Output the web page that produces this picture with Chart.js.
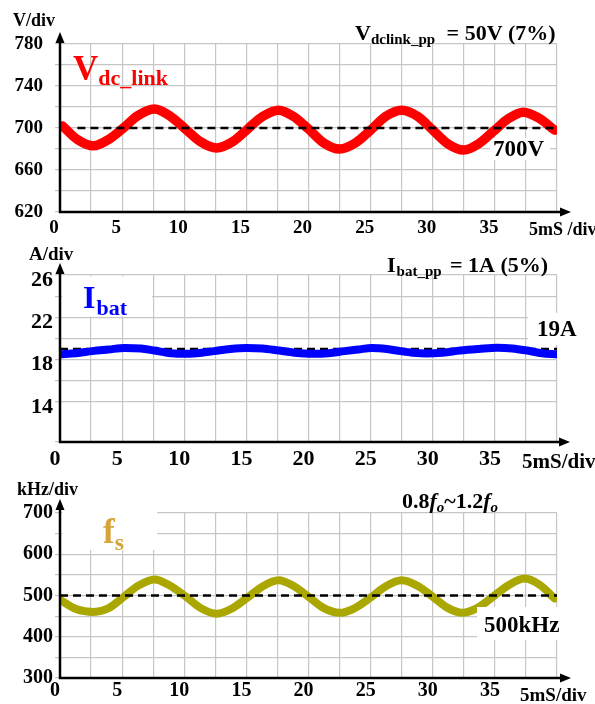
<!DOCTYPE html>
<html>
<head>
<meta charset="utf-8">
<script src="https://cdn.jsdelivr.net/npm/chart.js@4.4.1/dist/chart.umd.min.js"></script>
<style>
  html, body { margin: 0; padding: 0; background: #fff; }
  #wrap { position: relative; width: 595px; height: 704px; }
  #wrap canvas { position: absolute; left: 0; display: block; }
</style>
</head>
<body>
<div id="wrap">
  <canvas id="vdcChart" width="595" height="240" style="top:0"></canvas>
  <canvas id="ibatChart" width="595" height="234" style="top:240px"></canvas>
  <canvas id="fsChart" width="595" height="230" style="top:474px"></canvas>
</div>
<script>
// time axis (ms), shared by all three traces
var timeTickLabels = [0, 5, 10, 15, 20, 25, 30, 35];

// DC link voltage (V)
var vdcTime = [0.2, 1.4, 2.7, 3.9, 5.1, 6.3, 7.6, 8.9, 10.1, 11.3, 12.6, 13.9, 15.1, 16.3, 17.6, 18.8, 20.0,
  21.2, 22.5, 23.8, 25.0, 26.2, 27.5, 28.8, 30.0, 31.2, 32.5, 33.7, 34.9, 36.1, 37.3, 38.6, 39.8];
var vdcVolt = [702, 689, 683, 689, 700, 712, 718, 711, 699, 687, 681, 687, 699, 711, 717, 711, 699,
  686, 680, 686, 698, 711, 717, 711, 698, 685, 679, 685, 697, 709, 715, 709, 698];
var vdcRefTime = [1.4, 40];
var vdcRefLevel = 700;
var vdcTickLabels = [620, 660, 700, 740, 780];

// battery current (A)
var ibatTime = [0, 1.3, 2.6, 3.9, 5.2, 6.5, 7.6, 8.6, 9.7, 11.0, 12.4, 13.7, 15.0, 16.3, 17.6, 18.9, 20.3,
  21.6, 22.9, 24.0, 25.1, 26.3, 27.4, 28.4, 29.5, 30.8, 32.2, 33.7, 35.2, 36.4, 37.6, 38.8, 40];
var ibatAmp = [18.5, 18.6, 18.8, 18.95, 19.1, 19.05, 18.85, 18.65, 18.55, 18.6, 18.8, 19.0, 19.1, 19.05, 18.85, 18.65, 18.55,
  18.6, 18.8, 18.95, 19.1, 19.0, 18.8, 18.65, 18.58, 18.65, 18.85, 19.0, 19.12, 19.05, 18.85, 18.6, 18.5];
var ibatRefTime = [0, 40];
var ibatRefLevel = 19;
var ibatTickLabels = [14, 18, 22, 26];

// switching frequency (kHz)
var fsTime = [0, 1.3, 2.7, 3.9, 5.1, 6.3, 7.6, 8.8, 10.1, 11.3, 12.6, 13.8, 15.1, 16.3, 17.6, 18.8, 20.0,
  21.2, 22.5, 23.7, 25.0, 26.2, 27.5, 28.8, 30.0, 31.2, 32.4, 33.6, 34.8, 36.1, 37.4, 38.6, 39.8];
var fsKhz = [490, 467, 460, 469, 496, 524, 539, 525, 498, 470, 456, 468, 495, 522, 537, 523, 497,
  470, 458, 469, 495, 522, 537, 523, 497, 470, 458, 470, 496, 525, 541, 526, 493];
var fsRefTime = [0, 40];
var fsRefLevel = 500;
var fsTickLabels = [300, 400, 500, 600, 700];

var SERIF = '"Liberation Serif", "Times New Roman", serif';
var GRID = "#c6c6c6";
var RED = "#ff0000";
var BLUE = "#0000ff";
var OLIVE = "#aaa800";
var GOLD = "#d6a43a";

function points(xs, ys) {
  return xs.map(function(x, i) { return { x: x, y: ys[i] }; });
}

function levelLine(xs, level) {
  return xs.map(function(x) { return { x: x, y: level }; });
}

// labels, white backing boxes and axis arrows for each panel
var decor = {
  vdcChart: {
    arrowUp: 12, arrowRight: 14,
    boxes: [{ x: 490, y: 138, w: 60, h: 22 }],
    texts: [
      { x: 13, y: 26, runs: [{ text: "V/div", size: 18 }] },
      { x: 355, y: 40, runs: [{ text: "V", size: 22 }, { text: "dclink_pp", size: 15, dy: 4 }, { text: " = 50V (7%)", size: 22, gap: 6 }] },
      { x: 73, y: 80, runs: [{ text: "V", size: 35, color: RED }, { text: "dc_link", size: 22, dy: 5, color: RED }] },
      { x: 493, y: 156, runs: [{ text: "700V", size: 23 }] },
      { x: 529, y: 235, runs: [{ text: "5mS /div", size: 18 }] }
    ]
  },
  ibatChart: {
    arrowUp: 12, arrowRight: 13,
    boxes: [{ x: 62, y: 36.5, w: 90, h: 40 }, { x: 528, y: 73, w: 54, h: 32 }],
    texts: [
      { x: 29, y: 20, runs: [{ text: "A/div", size: 19 }] },
      { x: 387, y: 32, runs: [{ text: "I", size: 22 }, { text: "bat_pp", size: 15, dy: 4, gap: 1 }, { text: " = 1A (5%)", size: 22, gap: 3 }] },
      { x: 83, y: 68, runs: [{ text: "I", size: 32, color: BLUE }, { text: "bat", size: 22, dy: 7, gap: 1, color: BLUE }] },
      { x: 537, y: 96, runs: [{ text: "19A", size: 23 }] },
      { x: 522, y: 228, runs: [{ text: "5mS/div", size: 21 }] }
    ]
  },
  fsChart: {
    arrowUp: 14, arrowRight: 14,
    boxes: [{ x: 62, y: 0, w: 95, h: 76 }, { x: 477, y: 133, w: 93, h: 33, onTop: true }],
    texts: [
      { x: 17, y: 21, runs: [{ text: "kHz/div", size: 18 }] },
      { x: 402, y: 34, runs: [
        { text: "0.8", size: 22 }, { text: "f", size: 22, style: "italic bold" }, { text: "o", size: 15, dy: 4, style: "italic bold" },
        { text: "~1.2", size: 22 }, { text: "f", size: 22, style: "italic bold" }, { text: "o", size: 15, dy: 4, style: "italic bold" }] },
      { x: 103, y: 69, runs: [{ text: "f", size: 35, color: GOLD }, { text: "s", size: 24, dy: 7, color: GOLD }] },
      { x: 484, y: 158, runs: [{ text: "500kHz", size: 23 }] },
      { x: 520, y: 227, runs: [{ text: "5mS/div", size: 19 }] }
    ]
  }
};

function drawRuns(ctx, x, y, runs) {
  runs.forEach(function(run) {
    ctx.font = (run.style || "bold") + " " + run.size + "px " + SERIF;
    ctx.fillStyle = run.color || "#000";
    x += run.gap || 0;
    ctx.fillText(run.text, x, y + (run.dy || 0));
    x += ctx.measureText(run.text).width;
  });
}

function drawBoxes(chart, onTop) {
  var d = decor[chart.canvas.id];
  var ctx = chart.ctx;
  ctx.save();
  ctx.fillStyle = "#fff";
  d.boxes.forEach(function(b) {
    if (!!b.onTop === onTop) ctx.fillRect(b.x, b.y, b.w, b.h);
  });
  ctx.restore();
}

var panelDecor = {
  id: "panelDecor",
  beforeDatasetsDraw: function(chart) { drawBoxes(chart, false); },
  afterDatasetsDraw: function(chart) { drawBoxes(chart, true); },
  afterDraw: function(chart) {
    var d = decor[chart.canvas.id];
    var ctx = chart.ctx;
    var a = chart.chartArea;
    ctx.save();
    // axes with arrow heads
    ctx.strokeStyle = "#000";
    ctx.fillStyle = "#000";
    ctx.lineWidth = 2.5;
    ctx.beginPath();
    ctx.moveTo(a.left, a.bottom + 1);
    ctx.lineTo(a.left, a.top - d.arrowUp + 8);
    ctx.moveTo(a.left - 1.2, a.bottom);
    ctx.lineTo(a.right + d.arrowRight - 8, a.bottom);
    ctx.stroke();
    ctx.beginPath();
    ctx.moveTo(a.left, a.top - d.arrowUp);
    ctx.lineTo(a.left - 4.5, a.top - d.arrowUp + 11);
    ctx.lineTo(a.left + 4.5, a.top - d.arrowUp + 11);
    ctx.closePath();
    ctx.fill();
    ctx.beginPath();
    ctx.moveTo(a.right + d.arrowRight, a.bottom);
    ctx.lineTo(a.right + d.arrowRight - 11, a.bottom - 4.5);
    ctx.lineTo(a.right + d.arrowRight - 11, a.bottom + 4.5);
    ctx.closePath();
    ctx.fill();
    ctx.textBaseline = "alphabetic";
    ctx.textAlign = "left";
    d.texts.forEach(function(t) { drawRuns(ctx, t.x, t.y, t.runs); });
    ctx.restore();
  }
};

function panelOptions(cfg) {
  return {
    responsive: false,
    animation: false,
    layout: { padding: { top: cfg.top, right: 38, left: 0, bottom: 0 } },
    plugins: { legend: { display: false }, tooltip: { enabled: false } },
    scales: {
      x: {
        type: "linear", min: 0, max: 40,
        afterFit: function(s) { s.height = cfg.xHeight; },
        grid: { color: GRID, lineWidth: 1.2, drawTicks: false },
        border: { display: false },
        ticks: {
          stepSize: 2.5, maxTicksLimit: 100, autoSkip: false, maxRotation: 0,
          padding: cfg.xPad, labelOffset: cfg.xShift, color: "#000",
          font: { family: SERIF, size: cfg.xFont, weight: "bold" },
          callback: function(v) { return timeTickLabels.indexOf(v) >= 0 ? String(v) : ""; }
        }
      },
      y: {
        type: "linear", min: cfg.min, max: cfg.max,
        afterFit: function(s) { s.width = 60; },
        grid: { color: GRID, lineWidth: 1.2, tickLength: 5, tickColor: GRID },
        border: { display: false },
        ticks: {
          stepSize: cfg.step, maxTicksLimit: 100, autoSkip: false, padding: cfg.yPad, labelOffset: cfg.yShift || 0, color: "#000",
          font: { family: SERIF, size: cfg.yFont, weight: "bold" },
          callback: function(v) { return cfg.labels.indexOf(v) >= 0 ? String(v) : ""; }
        }
      }
    }
  };
}

function trace(data, color, width, order) {
  return { data: data, borderColor: color, borderWidth: width, pointRadius: 0, fill: false,
    cubicInterpolationMode: "monotone", borderCapStyle: "round", borderJoinStyle: "round", order: order };
}

function refLine(data, order) {
  return { data: data, borderColor: "#000", borderWidth: 2.5, borderDash: [8, 5], pointRadius: 0, fill: false, order: order };
}

var vdcChart = new Chart(document.getElementById("vdcChart"), {
  type: "line",
  data: { datasets: [trace(points(vdcTime, vdcVolt), RED, 9.5, 1), refLine(levelLine(vdcRefTime, vdcRefLevel), 0)] },
  options: panelOptions({ top: 44, xHeight: 28, xPad: 5, xShift: -6, xFont: 19, min: 620, max: 780, step: 20,
    yPad: 12, yFont: 19, labels: vdcTickLabels }),
  plugins: [panelDecor]
});

var ibatChart = new Chart(document.getElementById("ibatChart"), {
  type: "line",
  data: { datasets: [trace(points(ibatTime, ibatAmp), BLUE, 8, 0), refLine(levelLine(ibatRefTime, ibatRefLevel), 1)] },
  options: panelOptions({ top: 35, xHeight: 32, xPad: 4, xShift: -5, xFont: 22, min: 10.2, max: 26, step: 2,
    yPad: 2, yShift: 5, yFont: 22, labels: ibatTickLabels }),
  plugins: [panelDecor]
});

var fsChart = new Chart(document.getElementById("fsChart"), {
  type: "line",
  data: { datasets: [trace(points(fsTime, fsKhz), OLIVE, 8, 1), refLine(levelLine(fsRefTime, fsRefLevel), 0)] },
  options: panelOptions({ top: 39, xHeight: 26, xPad: 1, xShift: -5, xFont: 20, min: 300, max: 700, step: 50,
    yPad: 2, yFont: 20, labels: fsTickLabels }),
  plugins: [panelDecor]
});
</script>
</body>
</html>
